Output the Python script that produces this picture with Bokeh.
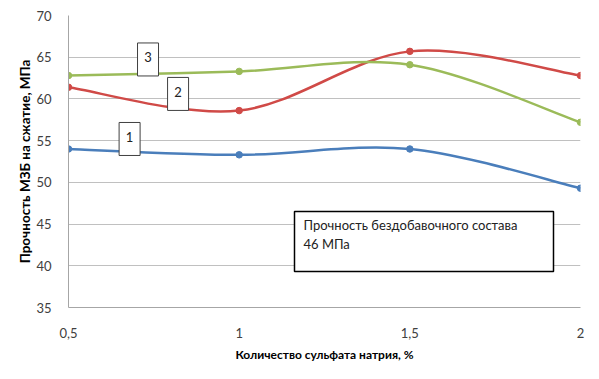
from bokeh.plotting import figure
from bokeh.embed import file_html
from bokeh.resources import INLINE
from bokeh.models import FixedTicker
from bokeh.core.properties import value

# ---- data ----
x_vals = [0.5, 1.0, 1.5, 2.0]
x_tick_labels = ["0,5", "1", "1,5", "2"]
y_ticks = [35, 40, 45, 50, 55, 60, 65, 70]
series1 = [54.0, 53.3, 54.0, 49.3]   # curve 1 (blue)
series2 = [61.4, 58.6, 65.7, 62.8]   # curve 2 (red)
series3 = [62.8, 63.3, 64.1, 57.2]   # curve 3 (green)
series_names = ["1", "2", "3"]
colors = ["#4a7ebb", "#d04a47", "#9bbb59"]
note_lines = ["Прочность бездобавочного состава", "46 МПа"]

FONT = "Lato"

p = figure(width=599, height=379, x_range=(0.5, 2.0), y_range=(35, 70),
           output_backend="svg", toolbar_location=None,
           min_border_left=68, min_border_right=19, min_border_top=15,
           min_border_bottom=72)
p.outline_line_color = None
p.background_fill_color = "white"
p.border_fill_color = "white"


def smooth_segments(xs, ys):
    n = len(xs)
    segs = []
    for i in range(n - 1):
        i0 = max(i - 1, 0)
        i3 = min(i + 2, n - 1)
        cx0 = xs[i] + (xs[i + 1] - xs[i0]) / 6.0
        cy0 = ys[i] + (ys[i + 1] - ys[i0]) / 6.0
        cx1 = xs[i + 1] - (xs[i3] - xs[i]) / 6.0
        cy1 = ys[i + 1] - (ys[i3] - ys[i]) / 6.0
        segs.append((xs[i], ys[i], xs[i + 1], ys[i + 1], cx0, cy0, cx1, cy1))
    return segs


for ys, col in zip([series1, series2, series3], colors):
    segs = smooth_segments(x_vals, ys)
    p.bezier(x0=[s[0] for s in segs], y0=[s[1] for s in segs],
             x1=[s[2] for s in segs], y1=[s[3] for s in segs],
             cx0=[s[4] for s in segs], cy0=[s[5] for s in segs],
             cx1=[s[6] for s in segs], cy1=[s[7] for s in segs],
             line_color=col, line_width=2.5)
    p.scatter(x_vals, ys, size=6.5, fill_color=col, line_color=col)

# number labels (boxes)
lab_x = [0.679, 0.821, 0.733]
lab_y = [55.2, 60.6, 64.73]
p.rect(lab_x, lab_y, width=21, height=33, width_units="screen", height_units="screen",
       fill_color="white", line_color="#404040", line_width=1)
p.text([x for x in lab_x], [y + 0.25 for y in lab_y], text=series_names,
       text_font=value(FONT), text_font_size="13px", text_color="#222222",
       text_align="center", text_baseline="middle")

# note box
p.rect([1.5415], [42.91], width=259, height=60, width_units="screen", height_units="screen",
       fill_color="white", line_color="black", line_width=1.5)
p.text([1.1885, 1.1885], [44.83, 42.67], text=note_lines,
       text_font=value(FONT), text_font_size="13px", text_color="#222222",
       text_align="left", text_baseline="middle")

# axes
p.xaxis.ticker = FixedTicker(ticks=x_vals)
p.xaxis.major_label_overrides = {v: t for v, t in zip(x_vals, x_tick_labels)}
p.yaxis.ticker = FixedTicker(ticks=y_ticks)
for ax in (p.xaxis, p.yaxis):
    ax.major_tick_line_color = None
    ax.minor_tick_line_color = None
    ax.axis_line_color = "#a6a6a6"
    ax.major_label_text_font = FONT
    ax.major_label_text_font_size = "13px"
    ax.major_label_text_color = "#404040"
    ax.axis_label_text_font = FONT
    ax.axis_label_text_font_style = "bold"
    ax.axis_label_text_color = "black"
p.xaxis.axis_label_text_font_size = "12px"
p.yaxis.axis_label_text_font_size = "13.5px"
p.xaxis.major_label_standoff = 14
p.yaxis.major_label_standoff = 11
p.xaxis.axis_label = "Количество сульфата натрия, %"
p.yaxis.axis_label = "Прочность МЗБ на сжатие, МПа"
p.xaxis.axis_label_standoff = 6
p.yaxis.axis_label_standoff = 0

p.xgrid.grid_line_color = None
p.ygrid.grid_line_color = "#c0c0c0"
p.ygrid.grid_line_width = 1

open("out.html", "w").write(file_html(p, INLINE))
